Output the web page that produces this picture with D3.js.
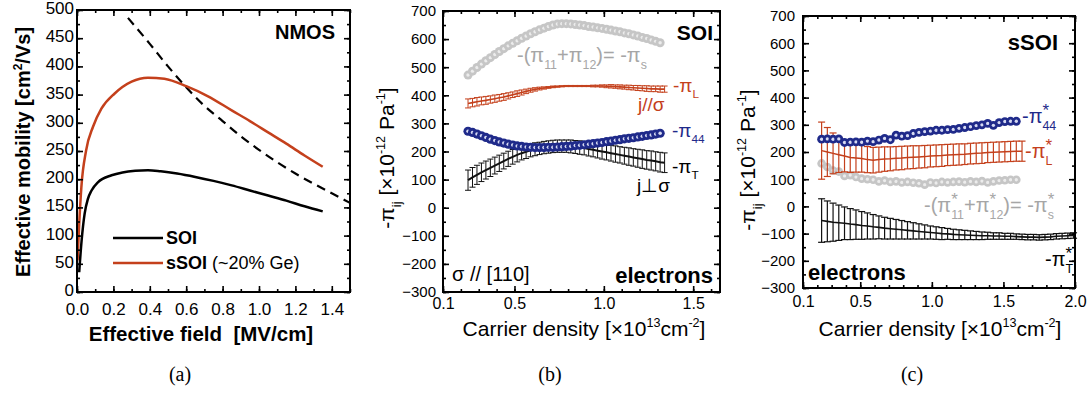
<!DOCTYPE html>
<html><head><meta charset="utf-8">
<script src="https://cdn.jsdelivr.net/npm/d3@7"></script>
<style>
body{margin:0;background:#fff}
svg{display:block}
text{font-family:"Liberation Sans",Arial,Helvetica,sans-serif;white-space:pre}
</style>
</head><body>
<svg id="chart" width="1090" height="397"></svg>
<script>
// ---------------- Panel (a) data ----------------
const aSOIx  = [0.012,0.025,0.042,0.06,0.08,0.116,0.19,0.25,0.32,0.39,0.46,0.55,0.65,0.75,0.85,0.95,1.05,1.15,1.25,1.35];
const aSOIy  = [35,90,139,165,180,195,207,212,215,216,214,210,204,197,189,180,171,162,152,143];
const aSSOIx = [0.003,0.012,0.024,0.05,0.088,0.134,0.207,0.3,0.39,0.48,0.6,0.72,0.85,0.95,1.05,1.15,1.25,1.35];
const aSSOIy = [56,120,186,251,293,325,352,373,380,378,365,347,322,303,283,263,242,222];
const aDashX = [0.28,0.4,0.5,0.6,0.7,0.8,0.9,1.0,1.1,1.2,1.3,1.4,1.5];
const aDashY = [486,440,400,363,330,303,276,252,230,210,192,175,158];
const aXTicks = [0,0.2,0.4,0.6,0.8,1.0,1.2,1.4];
const aYTicks = [0,50,100,150,200,250,300,350,400,450,500];

// ---------------- Panel (b) data : SOI ----------------
const bX = [0.240,0.265,0.290,0.315,0.340,0.365,0.390,0.415,0.440,0.465,0.490,0.515,0.540,0.565,0.590,0.615,0.640,0.665,0.690,0.715,0.740,0.765,0.790,0.815,0.840,0.865,0.890,0.915,0.940,0.965,0.990,1.015,1.040,1.065,1.090,1.115,1.140,1.165,1.190,1.215,1.240,1.265,1.290,1.315,1.340];
const bPiS  = [472,486,499,511,523,534,545,556,566,576,585,594,603,611,619,626,633,639,645,650,654,655,655,654,652,650,648,645,643,640,638,635,632,629,626,622,619,615,611,606,602,597,592,587];
const bPi44 = [272,268,262,256,250,244,239,234,230,226,223,220,218,216,215,214,214,214,215,215,216,217,218,219,221,222,224,226,228,230,232,235,237,240,242,245,247,249,252,254,257,259,262,265];
const bPiL    = [371,374,377,380,382,385,388,391,394,398,402,406,410,414,418,421,424,426,428,430,431,432,433,433,433,433,433,433,433,433,433,432,432,431,430,429,428,427,426,425,424,423,423,422,422];
const bPiLerr = [16,15,15,14,14,13,13,12,12,11,10,10,9,8,7,6,5,4,3,3,2,2,2,2,2,2,2,2,3,3,4,5,6,6,7,7,8,8,9,9,10,10,10,11,11];
const bPiT    = [98,108,117,126,134,142,150,158,166,174,181,188,194,199,204,208,211,214,216,218,219,219,219,218,216,214,212,209,206,203,200,197,194,191,188,185,182,179,176,173,170,168,165,162,160];
const bPiTerr = [36,35,34,33,32,31,30,29,28,27,26,25,24,24,23,23,22,22,22,22,22,22,22,23,23,24,24,25,25,26,27,27,28,29,29,30,31,31,32,33,33,34,34,35,35];

// ---------------- Panel (c) data : sSOI ----------------
const cX = [0.23,0.27,0.31,0.35,0.39,0.43,0.47,0.51,0.55,0.59,0.63,0.67,0.71,0.75,0.79,0.83,0.87,0.91,0.95,0.99,1.03,1.07,1.11,1.15,1.19,1.23,1.27,1.31,1.35,1.39,1.43,1.47,1.51,1.55,1.59,1.63,1.67,1.71,1.75,1.79,1.83,1.87,1.91,1.95,1.99];
const cPi44 = [247,248,247,248,235,236,237,236,240,238,244,250,245,262,258,260,268,272,275,277,280,280,282,283,287,290,293,297,300,305,298,308,312,313,313];
const cPiS  = [158,145,132,128,112,115,108,102,100,98,92,95,90,92,88,90,87,85,80,88,86,90,88,90,91,89,92,90,93,88,92,95,96,98,98];
const cPiL    = [205,200,195,190,185,180,178,176,172,170,172,174,175,177,178,180,181,182,183,185,186,187,189,190,191,192,194,195,196,198,199,200,201,202,203,203];
const cPiLerr = [105,90,75,65,58,55,52,50,48,47,46,45,44,43,43,42,42,41,41,40,40,40,39,39,39,38,38,38,38,37,37,37,37,37,37,37];
const cPiT    = [-52,-55,-58,-60,-62,-65,-67,-70,-72,-75,-77,-80,-82,-84,-86,-88,-90,-92,-94,-96,-98,-100,-101,-103,-104,-105,-106,-107,-108,-108,-109,-109,-110,-110,-111,-112,-113,-113,-114,-113,-112,-110,-109,-108,-107];
const cPiTerr = [80,75,70,65,60,57,54,51,48,45,42,40,38,36,34,32,30,28,26,24,23,22,20,19,18,17,16,15,14,13,12,12,11,11,10,10,10,10,10,10,10,10,10,10,10];

const bcYTicks = [-300,-200,-100,0,100,200,300,400,500,600,700];
const bXTicks = [0.1,0.5,1.0,1.5];
const cXTicks = [0.1,0.5,1.0,1.5,2.0];

// ---------------- styles ----------------
const RED = "#c4401c", BLUE = "#1f2a8a", GRAY = "#c6c6c6", GRAYTXT = "#a6a6a6";
const FONT = '"Liberation Sans",Arial,Helvetica,sans-serif';
const NB = "\u00a0";

const svg = d3.select("#chart");

const ax = d3.scaleLinear().domain([0,1.5]).range([77,350]);
const ay = d3.scaleLinear().domain([0,500]).range([292,10]);
const bx = d3.scaleLinear().domain([0.1,1.65]).range([443,720]);
const by = d3.scaleLinear().domain([-300,700]).range([292,11]);
const cx = d3.scaleLinear().domain([0.1,2.0]).range([803,1075]);
const cy = d3.scaleLinear().domain([-300,700]).range([288,16]);

function rich(parent, x, y, items, o) {
  const g = parent.append("g").attr("fill", o.color || "#000")
    .style("font-size", o.size + "px").style("font-weight", o.weight || "normal");
  const inner = g.append("g");
  let pos = 0;
  items.forEach(it => {
    if (it.t) {
      const t = inner.append("text").attr("x", pos).attr("y", 0).text(it.t);
      if (it.w) t.style("font-weight", it.w);
      pos += t.node().getComputedTextLength();
    }
    let adv = 0;
    if (it.sub) {
      const s = inner.append("text").attr("x", pos).attr("y", o.size * (it.subDy || 0.33))
        .style("font-size", (o.size * (it.subScale || 0.62)) + "px").text(it.sub);
      adv = Math.max(adv, s.node().getComputedTextLength());
    }
    if (it.sup) {
      const s = inner.append("text").attr("x", pos).attr("y", -o.size * (it.supDy || 0.42))
        .style("font-size", (o.size * (it.supScale || 0.6)) + "px").text(it.sup);
      adv = Math.max(adv, s.node().getComputedTextLength());
    }
    pos += adv;
  });
  const dx = o.anchor === "end" ? -pos : o.anchor === "middle" ? -pos / 2 : 0;
  g.attr("transform", `translate(${x},${y}) rotate(${o.rotate || 0})`);
  inner.attr("transform", `translate(${dx},0)`);
  return g;
}

function frame(x, y, o) {
  const g = svg.append("g");
  const [x0, x1] = x.range(), [y0, y1] = y.range();
  const style = sel => {
    sel.select(".domain").remove();
    sel.selectAll("line").attr("stroke", "#000").attr("stroke-width", 1.6);
    sel.attr("font-family", FONT);
  };
  g.append("g").attr("transform", `translate(0,${y0})`).call(d3.axisBottom(x).tickValues(o.xMinor).tickSize(-3).tickFormat("")).call(style);
  g.append("g").attr("transform", `translate(0,${y1})`).call(d3.axisTop(x).tickValues(o.xMinor).tickSize(-3).tickFormat("")).call(style);
  g.append("g").attr("transform", `translate(${x0},0)`).call(d3.axisLeft(y).tickValues(o.yMinor).tickSize(-3).tickFormat("")).call(style);
  g.append("g").attr("transform", `translate(${x1},0)`).call(d3.axisRight(y).tickValues(o.yMinor).tickSize(-3).tickFormat("")).call(style);
  g.append("g").attr("transform", `translate(0,${y0})`)
    .call(d3.axisBottom(x).tickValues(o.xTicks).tickSize(-6).tickPadding(o.xPad).tickFormat(d3.format(".1f")))
    .call(style).attr("font-size", o.xFont);
  g.append("g").attr("transform", `translate(0,${y1})`).call(d3.axisTop(x).tickValues(o.xTicks).tickSize(-6).tickFormat("")).call(style);
  const yl = g.append("g").attr("transform", `translate(${x0},0)`)
    .call(d3.axisLeft(y).tickValues(o.yTicks).tickSize(-6).tickPadding(o.yPad).tickFormat(d3.format("d")))
    .call(style).attr("font-size", o.yFont);
  if (o.yDy) yl.selectAll("text").attr("dy", o.yDy);
  g.append("g").attr("transform", `translate(${x1},0)`).call(d3.axisRight(y).tickValues(o.yTicks).tickSize(-6).tickFormat("")).call(style);
  g.selectAll("text").attr("fill", "#000");
  svg.append("rect").attr("x", x0).attr("y", y1).attr("width", x1 - x0).attr("height", y0 - y1)
    .attr("fill", "none").attr("stroke", "#000").attr("stroke-width", 2);
}

function minorVals(a, b, step) {
  const out = [];
  for (let v = a; v <= b + 1e-9; v += step) out.push(+v.toFixed(4));
  return out;
}

// ===================== Panel (a) =====================
const gA = svg.append("g");
const lineA = d3.line().curve(d3.curveMonotoneX);
gA.append("path").attr("d", lineA(aDashX.map((v, i) => [ax(v), ay(aDashY[i])])))
  .attr("fill", "none").attr("stroke", "#000").attr("stroke-width", 2.2).attr("stroke-dasharray", "9,6");
gA.append("path").attr("d", lineA(aSOIx.map((v, i) => [ax(v), ay(aSOIy[i])])))
  .attr("fill", "none").attr("stroke", "#000").attr("stroke-width", 2.5);
gA.append("path").attr("d", lineA(aSSOIx.map((v, i) => [ax(v), ay(aSSOIy[i])])))
  .attr("fill", "none").attr("stroke", RED).attr("stroke-width", 2.5);

frame(ax, ay, {
  xTicks: aXTicks, xMinor: minorVals(0, 1.5, 0.1), yTicks: aYTicks, yMinor: minorVals(0, 500, 25),
  xPad: 11, yPad: 3, xFont: 17, yFont: 17, yDy: "0.2em"
});

gA.append("line").attr("x1", 113).attr("x2", 163).attr("y1", 238).attr("y2", 238).attr("stroke", "#000").attr("stroke-width", 2.5);
gA.append("line").attr("x1", 113).attr("x2", 163).attr("y1", 263).attr("y2", 263).attr("stroke", RED).attr("stroke-width", 2.5);
rich(svg, 166, 244, [{t: "SOI", w: "bold"}], {size: 18});
rich(svg, 166, 269, [{t: "sSOI", w: "bold"}, {t: NB + "(~20% Ge)"}], {size: 18});
rich(svg, 335, 39, [{t: "NMOS"}], {size: 20, weight: "bold", anchor: "end"});
rich(svg, 201, 341, [{t: "Effective field" + NB + NB + "[MV/cm]"}], {size: 20.5, weight: "bold", anchor: "middle"});
rich(svg, 30, 152, [{t: "Effective mobility [cm", sup: "2"}, {t: "/Vs]"}], {size: 20, weight: "bold", anchor: "middle", rotate: -90});

// ===================== Panel (b) =====================
function circles(g, xs, ys, sx, sy, col, hi, r) {
  ys.forEach((v, i) => {
    g.append("circle").attr("cx", sx(xs[i])).attr("cy", sy(v)).attr("r", r).attr("fill", col);
    g.append("circle").attr("cx", sx(xs[i])).attr("cy", sy(v)).attr("r", r * 0.38).attr("fill", hi);
  });
}
function errLine(g, xs, ys, es, sx, sy, col, lw, cap, bw) {
  ys.forEach((v, i) => {
    const px = sx(xs[i]);
    g.append("line").attr("x1", px).attr("x2", px).attr("y1", sy(v - es[i])).attr("y2", sy(v + es[i])).attr("stroke", col).attr("stroke-width", bw);
    [v - es[i], v + es[i]].forEach(e => {
      g.append("line").attr("x1", px - cap).attr("x2", px + cap).attr("y1", sy(e)).attr("y2", sy(e)).attr("stroke", col).attr("stroke-width", bw);
    });
  });
  g.append("path").attr("d", d3.line()(ys.map((v, i) => [sx(xs[i]), sy(v)])))
    .attr("fill", "none").attr("stroke", col).attr("stroke-width", lw);
}

const gB = svg.append("g");
circles(gB, bX, bPiS, bx, by, GRAY, "#ececec", 4.5);
errLine(gB, bX, bPiL, bPiLerr, bx, by, RED, 1.6, 3, 1);
errLine(gB, bX, bPiT, bPiTerr, bx, by, "#111", 2, 3, 1);
circles(gB, bX, bPi44, bx, by, BLUE, "#d6daf2", 4.6);

frame(bx, by, {
  xTicks: bXTicks, xMinor: minorVals(0.1, 1.6, 0.1), yTicks: bcYTicks, yMinor: minorVals(-300, 700, 50),
  xPad: 6, yPad: 7, xFont: 16, yFont: 15
});

rich(svg, 713, 40, [{t: "SOI"}], {size: 21, weight: "bold", anchor: "end"});
rich(svg, 713, 283, [{t: "electrons"}], {size: 22, weight: "bold", anchor: "end"});
rich(svg, 452, 281, [{t: "σ // [110]"}], {size: 20});
rich(svg, 517, 62, [{t: "-(π", sub: "11"}, {t: "+π", sub: "12"}, {t: ")=" + NB + "-π", sub: "s"}], {size: 20, color: GRAYTXT});
rich(svg, 673, 92, [{t: "-π", sub: "L"}], {size: 19, color: RED});
rich(svg, 638, 111, [{t: "j//σ"}], {size: 19, color: RED});
rich(svg, 672, 137, [{t: "-π", sub: "44"}], {size: 19, color: BLUE});
rich(svg, 672, 173, [{t: "-π", sub: "T"}], {size: 19});
rich(svg, 637, 192, [{t: "j⊥σ"}], {size: 19});
rich(svg, 584, 336, [{t: "Carrier density [×10", sup: "13"}, {t: "cm", sup: "-2"}, {t: "]"}], {size: 21, anchor: "middle"});
rich(svg, 394, 158, [{t: "-π", sub: "ij"}, {t: NB + "[×10", sup: "-12"}, {t: NB + "Pa", sup: "-1"}, {t: "]"}], {size: 21, anchor: "middle", rotate: -90});

// ===================== Panel (c) =====================
const gC = svg.append("g");
circles(gC, cX, cPiS, cx, cy, GRAY, "#ececec", 4.3);
errLine(gC, cX, cPiL, cPiLerr, cx, cy, RED, 1.5, 3.5, 1.2);
circles(gC, cX, cPi44, cx, cy, BLUE, "#d6daf2", 4.4);
errLine(gC, cX, cPiT, cPiTerr, cx, cy, "#111", 1.6, 3.5, 1.2);

frame(cx, cy, {
  xTicks: cXTicks, xMinor: minorVals(0.1, 2.0, 0.1), yTicks: bcYTicks, yMinor: minorVals(-300, 700, 50),
  xPad: 8, yPad: 8, xFont: 16, yFont: 15
});

rich(svg, 1058, 50, [{t: "sSOI"}], {size: 22, weight: "bold", anchor: "end"});
rich(svg, 808, 280, [{t: "electrons"}], {size: 22, weight: "bold"});
const star = {supScale: 0.85, supDy: 0.35};
rich(svg, 1022, 123, [{t: "-π", sub: "44", sup: "*", ...star}], {size: 20, color: BLUE});
rich(svg, 1025, 158, [{t: "-π", sub: "L", sup: "*", ...star}], {size: 20, color: RED});
rich(svg, 924, 212, [{t: "-(π", sub: "11", sup: "*", ...star}, {t: "+π", sub: "12", sup: "*", ...star}, {t: ")=" + NB + "-π", sub: "s", sup: "*", ...star}], {size: 20, color: GRAYTXT});
rich(svg, 1045, 266, [{t: "-π", sub: "T", sup: "*", ...star}], {size: 20});
rich(svg, 940, 336, [{t: "Carrier density [×10", sup: "13"}, {t: "cm", sup: "-2"}, {t: "]"}], {size: 21, anchor: "middle"});
rich(svg, 755, 160, [{t: "-π", sub: "ij"}, {t: NB + "[×10", sup: "-12"}, {t: NB + "Pa", sup: "-1"}, {t: "]"}], {size: 21, anchor: "middle", rotate: -90});

// captions
const SERIF = '"Liberation Serif","DejaVu Serif",serif';
svg.append("text").attr("x", 180).attr("y", 381).attr("text-anchor", "middle").style("font-family", SERIF).style("font-size", "20px").text("(a)");
svg.append("text").attr("x", 550).attr("y", 381).attr("text-anchor", "middle").style("font-family", SERIF).style("font-size", "20px").text("(b)");
svg.append("text").attr("x", 912).attr("y", 381).attr("text-anchor", "middle").style("font-family", SERIF).style("font-size", "20px").text("(c)");
</script>
</body></html>
